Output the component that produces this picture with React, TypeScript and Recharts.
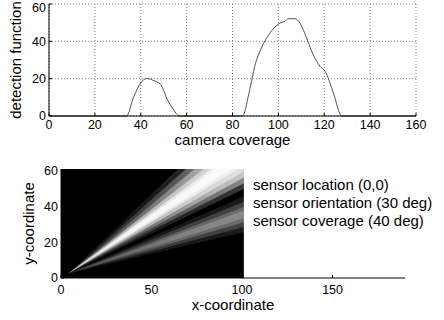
import {
  Area,
  CartesianGrid,
  ComposedChart,
  Label,
  Line,
  LineChart,
  ReferenceDot,
  XAxis,
  YAxis,
} from 'recharts'

// top panel: detection function over camera coverage
const coverage = [0, 33.8, 37, 40, 42.6, 45.8, 48.7, 51.6, 53.8, 56, 57, 84.3, 87.5, 89.7, 92.6, 96.3, 100.7, 102.8, 104.3, 107.2, 109.4, 112.3, 115.2, 118.2, 120.4, 124, 127.6, 160]
const detection = [0, 0, 10.5, 17.7, 20.1, 18.9, 16.8, 8.7, 4.3, 0.7, 0, 0, 14.1, 26.6, 36.4, 44.4, 49.8, 50.7, 52.1, 52.1, 49.8, 41.8, 32.8, 26.6, 23.9, 12.3, 0, 0]
const coverageTicks = [0, 20, 40, 60, 80, 100, 120, 140, 160]
const detectionTicks = [0, 20, 40, 60]

// bottom panel: sensor image (black field with two beams from the sensor)
const imageX = [0, 4, 101] // image left edge, beam apex, image right edge
const imageY = [0, 61]
const apexY = 2.5
// y range of each beam band at the right edge of the image, outer band first
const upperBeam = [[49.8, 96.2], [53.0, 89.8], [56.3, 83.9], [59.6, 78.3], [63.1, 74.3], [65.5, 71.7]]
const upperOpacity = [0.22, 0.4, 0.55, 0.5, 0.6, 0.75]
const lowerBeam = [[25.8, 45.7], [28.5, 42.7], [31.2, 39.7], [33.5, 37.6]]
const lowerOpacity = [0.1, 0.18, 0.22, 0.2]
const xCoordTicks = [0, 50, 100, 150]
const yCoordTicks = [0, 20, 40, 60]
const notes = ['sensor location (0,0)', 'sensor orientation (30 deg)', 'sensor coverage (40 deg)']
const noteX = 106
const noteY = [52, 42, 32]

const upperFill = ['url(#upOuter)', 'url(#upOuter)', 'url(#upOuter)', 'url(#upInner)', 'url(#upInner)', 'url(#upInner)']

const coverageData = coverage.map((x, i) => ({ x, d: detection[i] }))

const imageData = imageX.map((x, i) => {
  const row: Record<string, unknown> = { x, img: imageY }
  upperBeam.forEach((b, k) => {
    row[`u${k}`] = i === 0 ? null : i === 1 ? [apexY, apexY] : b
  })
  lowerBeam.forEach((b, k) => {
    row[`l${k}`] = i === 0 ? null : i === 1 ? [apexY, apexY] : b
  })
  return row
})

const tickStyle = { fill: '#000', fontSize: 12.5 }

const sideLabel = (text: string, baseX: number) => (props: any) => {
  const vb = props.viewBox
  const x = vb.x + baseX
  const y = vb.y + vb.height / 2
  return (
    <text x={x} y={y} transform={`rotate(-90 ${x} ${y})`} textAnchor="middle" fontSize={15} fill="#000">
      {text}
    </text>
  )
}

const bottomLabel = (text: string, baseY: number) => (props: any) => {
  const vb = props.viewBox
  return (
    <text x={vb.x + vb.width / 2} y={vb.y + baseY} textAnchor="middle" fontSize={15} fill="#000">
      {text}
    </text>
  )
}

export default function App() {
  return (
    <div
      style={{
        position: 'absolute',
        left: 0,
        top: 0,
        width: 444,
        height: 320,
        background: '#fff',
        fontFamily: '"Liberation Sans", Arial, sans-serif',
      }}
    >
      <div style={{ position: 'absolute', left: 0, top: 0 }}>
        <LineChart width={444} height={150} data={coverageData} margin={{ top: 4, right: 28, bottom: 4, left: 0 }}>
          <CartesianGrid stroke="#808080" strokeDasharray="1 2" />
          <XAxis
            dataKey="x"
            type="number"
            domain={[0, 160]}
            ticks={coverageTicks}
            height={30}
            stroke="#000"
            tick={tickStyle}
            tickSize={-3}
            tickMargin={7}
          >
            <Label content={bottomLabel('camera coverage', 29)} />
          </XAxis>
          <YAxis
            domain={[0, 60]}
            ticks={detectionTicks}
            width={49}
            stroke="#000"
            tick={tickStyle}
            tickSize={-3}
            tickMargin={6}
          >
            <Label content={sideLabel('detection function', 21)} />
          </YAxis>
          <XAxis xAxisId="top" orientation="top" type="number" domain={[0, 160]} ticks={coverageTicks} height={0} stroke="#000" tick={false} tickSize={-3} />
          <YAxis yAxisId="right" orientation="right" domain={[0, 60]} ticks={detectionTicks} width={0} stroke="#000" tick={false} tickSize={-3} />
          <Line dataKey="d" type="monotone" stroke="#505050" strokeWidth={1} dot={false} activeDot={false} isAnimationActive={false} />
        </LineChart>
      </div>

      <div style={{ position: 'absolute', left: 0, top: 150 }}>
        <ComposedChart width={444} height={170} data={imageData} margin={{ top: 19, right: 39, bottom: 0, left: 0 }}>
          <defs>
            <linearGradient id="upOuter" x1="0" y1="0" x2="1" y2="0">
              <stop offset="0" stopColor="#fff" stopOpacity={0.15} />
              <stop offset="0.45" stopColor="#fff" stopOpacity={0.45} />
              <stop offset="1" stopColor="#fff" stopOpacity={1} />
            </linearGradient>
            <linearGradient id="upInner" x1="0" y1="0" x2="1" y2="0">
              <stop offset="0" stopColor="#fff" stopOpacity={0.6} />
              <stop offset="0.35" stopColor="#fff" stopOpacity={1} />
              <stop offset="1" stopColor="#fff" stopOpacity={0.95} />
            </linearGradient>
            <linearGradient id="lowFade" x1="0" y1="0" x2="1" y2="0">
              <stop offset="0" stopColor="#fff" stopOpacity={0.45} />
              <stop offset="0.6" stopColor="#fff" stopOpacity={0.9} />
              <stop offset="1" stopColor="#fff" stopOpacity={1} />
            </linearGradient>
          </defs>
          <XAxis
            dataKey="x"
            type="number"
            domain={[0, 190]}
            ticks={xCoordTicks}
            height={42}
            stroke="#000"
            tick={tickStyle}
            tickSize={-3}
            tickMargin={10}
          >
            <Label content={bottomLabel('x-coordinate', 31.5)} />
          </XAxis>
          <YAxis
            type="number"
            domain={[0, 61]}
            allowDataOverflow
            ticks={yCoordTicks}
            width={61}
            stroke="#000"
            tick={tickStyle}
            tickSize={-3}
            tickMargin={6}
          >
            <Label content={sideLabel('y-coordinate', 34)} />
          </YAxis>
          <XAxis xAxisId="top" orientation="top" type="number" domain={[0, 190]} ticks={xCoordTicks} height={0} stroke="#000" tick={false} tickSize={-3} />
          <YAxis yAxisId="right" orientation="right" domain={[0, 61]} ticks={yCoordTicks} width={0} stroke="#000" tick={false} tickSize={-3} />
          <Area dataKey="img" type="linear" fill="#000" fillOpacity={1} stroke="none" dot={false} activeDot={false} isAnimationActive={false} />
          {lowerBeam.map((_, k) => (
            <Area
              key={`l${k}`}
              dataKey={`l${k}`}
              type="linear"
              fill="url(#lowFade)"
              fillOpacity={lowerOpacity[k]}
              stroke="none"
              dot={false}
              activeDot={false}
              isAnimationActive={false}
            />
          ))}
          {upperBeam.map((_, k) => (
            <Area
              key={`u${k}`}
              dataKey={`u${k}`}
              type="linear"
              fill={upperFill[k]}
              fillOpacity={upperOpacity[k]}
              stroke="none"
              dot={false}
              activeDot={false}
              isAnimationActive={false}
            />
          ))}
          {notes.map((n, i) => (
            <ReferenceDot
              key={n}
              x={noteX}
              y={noteY[i]}
              r={0}
              fill="none"
              stroke="none"
              label={{ value: n, position: 'right', offset: 0, fontSize: 15, fill: '#000' }}
            />
          ))}
        </ComposedChart>
      </div>
    </div>
  )
}
